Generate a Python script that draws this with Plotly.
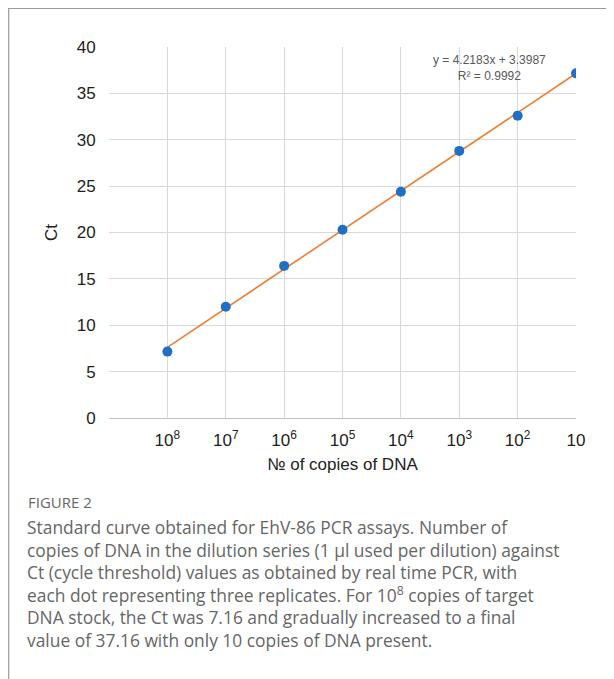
import plotly.graph_objects as go

# data
copies_labels = ["10<sup>8</sup>", "10<sup>7</sup>", "10<sup>6</sup>", "10<sup>5</sup>",
                 "10<sup>4</sup>", "10<sup>3</sup>", "10<sup>2</sup>", "10"]
dilution_step = [1, 2, 3, 4, 5, 6, 7, 8]
ct_values = [7.16, 12.0, 16.4, 20.3, 24.4, 28.8, 32.6, 37.16]
trend_x = [1, 8]
trend_y = [7.62, 37.14]

# the page has an 8px body margin, so work in page pixels minus 8
OFF = 8
W, H = 614 - OFF, 679 - OFF
L, R, T, B = 109 - OFF, 576 - OFF, 47 - OFF, 418 - OFF   # plot area


def px(x):
    return (x - OFF - L) / (R - L)


def py(y):
    return (B - (y - OFF)) / (B - T)


fig = go.Figure()
fig.add_trace(go.Scatter(
    x=trend_x, y=trend_y, mode="lines",
    line=dict(color="#ed7d31", width=1.6), showlegend=False))
fig.add_trace(go.Scatter(
    x=dilution_step, y=ct_values, mode="markers",
    marker=dict(color="#1f6fc5", size=10), showlegend=False))

fig.update_layout(
    width=W, height=H,
    margin=dict(l=L, r=W - R, t=T, b=H - B),
    paper_bgcolor="white", plot_bgcolor="white",
    font=dict(family="Liberation Sans, Arial", color="#222", size=17),
    xaxis=dict(range=[0, 8], tickvals=[0] + dilution_step,
               ticktext=[""] + copies_labels,
               showgrid=True, gridcolor="#d9d9d9", gridwidth=1,
               zeroline=False, showline=True, linecolor="#bfbfbf",
               ticks="outside", ticklen=7, tickcolor="rgba(0,0,0,0)",
               tickfont=dict(size=17),
               title=dict(text="№ of copies of DNA", font=dict(size=17),
                          standoff=8)),
    yaxis=dict(range=[0, 40], dtick=5, showgrid=True, gridcolor="#d9d9d9",
               zeroline=False, showline=False, ticks="outside",
               ticklen=9, tickcolor="rgba(0,0,0,0)",
               tickfont=dict(size=17),
               title=dict(text="Ct", font=dict(size=17), standoff=14)),
    shapes=[
        dict(type="line", xref="paper", yref="paper",
             x0=px(7), x1=px(620), y0=py(8.5), y1=py(8.5),
             line=dict(color="#9a9a9a", width=1.2)),
        dict(type="line", xref="paper", yref="paper",
             x0=px(8.7), x1=px(8.7), y0=py(8), y1=py(690),
             line=dict(color="#9a9a9a", width=1.2)),
    ],
    annotations=[
        dict(xref="paper", yref="paper", x=px(489), y=py(68.5),
             xanchor="center", yanchor="middle",
             text="y = 4.2183x + 3.3987<br>R² = 0.9992", showarrow=False,
             font=dict(size=12, color="#595959"), align="center"),
        dict(xref="paper", yref="paper", x=px(26), y=py(502),
             xanchor="left", yanchor="middle", text="FIGURE 2",
             showarrow=False,
             font=dict(family="Open Sans", size=15, color="#666")),
        dict(xref="paper", yref="paper", x=px(25), y=py(513),
             xanchor="left", yanchor="top", align="left", showarrow=False,
             font=dict(family="Open Sans", size=17.4, color="#666"),
             text=("Standard curve obtained for EhV-86 PCR assays. Number of<br>"
                   "copies of DNA in the dilution series (1 µl used per dilution) against<br>"
                   "Ct (cycle threshold) values as obtained by real time PCR, with<br>"
                   "each dot representing three replicates. For 10<sup>8</sup> copies of target<br>"
                   "DNA stock, the Ct was 7.16 and gradually increased to a final<br>"
                   "value of 37.16 with only 10 copies of DNA present.")),
    ],
)

fig.write_html("out.html")
